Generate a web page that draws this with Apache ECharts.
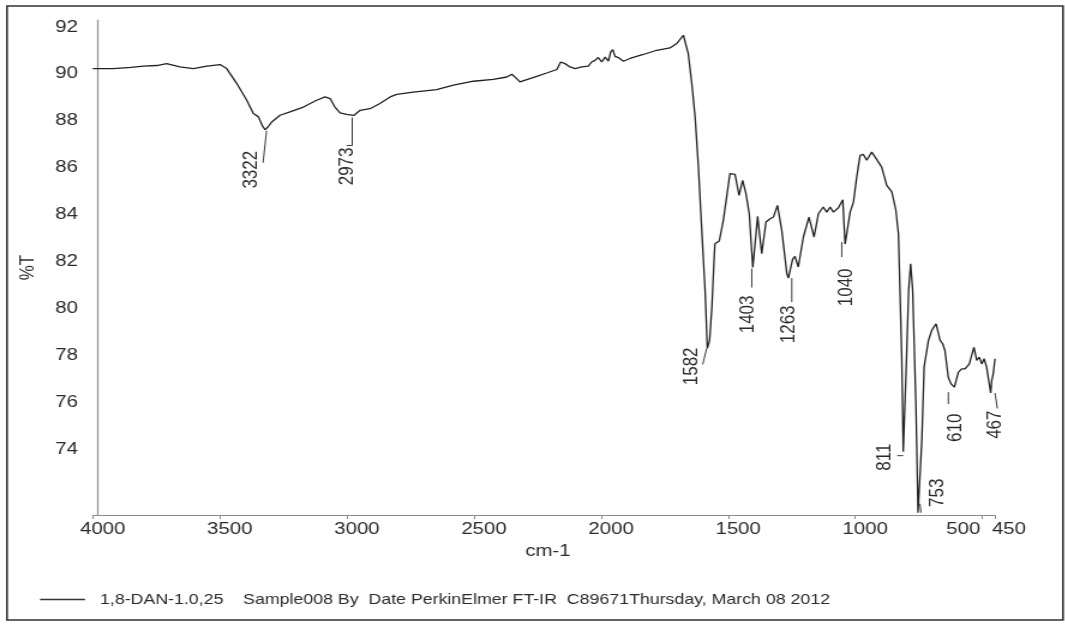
<!DOCTYPE html>
<html>
<head>
<meta charset="utf-8">
<title>FT-IR spectrum 1,8-DAN</title>
<script src="https://cdn.jsdelivr.net/npm/echarts@6/dist/echarts.min.js"></script>
<style>
  html, body { margin: 0; padding: 0; background: #fff; }
  /* The instrument printout uses a horizontally widened type face; the chart is
     drawn at 1/S of the page width and widened by S. */
  #chart { width: 887.5px; height: 624px; transform: scaleX(1.2); transform-origin: 0 0; }
</style>
</head>
<body>
<div id="chart"></div>
<script>
// ---- spectrum (cm-1, %T) ----
const wavenumbers = [
  4000, 3919, 3850, 3801, 3748, 3709, 3657, 3604, 3551, 3499, 3473, 3433, 3394, 3368, 3348, 3333,
  3322, 3310, 3296, 3263, 3224, 3171, 3119, 3086, 3066, 3047, 3027, 3001, 2973, 2948, 2909, 2870,
  2830, 2804, 2739, 2647, 2581, 2502, 2424, 2371, 2351, 2332, 2319, 2292, 2253, 2214, 2174, 2159,
  2142, 2122, 2102, 2076, 2050, 2037, 2024, 2011, 1997, 1984, 1971, 1962, 1954, 1945, 1932, 1912,
  1886, 1834, 1781, 1729, 1702, 1676, 1657, 1643, 1630, 1617, 1603, 1590, 1582, 1573, 1564, 1555,
  1552, 1535, 1519, 1506, 1493, 1473, 1457, 1443, 1430, 1417, 1403, 1384, 1368, 1351, 1335, 1322,
  1306, 1289, 1269, 1263, 1246, 1237, 1224, 1204, 1182, 1162, 1145, 1126, 1112, 1099, 1086, 1066,
  1049, 1040, 1020, 1007, 994, 981, 968, 955, 935, 915, 896, 876, 856, 840, 830, 824,
  817, 811, 798, 790, 782, 774, 761, 753, 738, 729, 712, 699, 682, 666, 656, 647,
  634, 623, 610, 594, 581, 568, 561, 551, 542, 533, 522, 512, 502, 493, 483, 467,
  463, 457, 450
];
const transmittance = [
  90.03, 90.03, 90.08, 90.13, 90.16, 90.24, 90.10, 90.03, 90.13, 90.20, 90.03, 89.39, 88.68, 88.11, 87.97, 87.60,
  87.42, 87.55, 87.75, 88.04, 88.18, 88.39, 88.68, 88.82, 88.75, 88.39, 88.14, 88.08, 88.03, 88.25, 88.32, 88.54,
  88.82, 88.93, 89.03, 89.13, 89.32, 89.49, 89.57, 89.67, 89.79, 89.60, 89.46, 89.56, 89.70, 89.84, 89.99, 90.31,
  90.24, 90.10, 90.03, 90.10, 90.13, 90.31, 90.38, 90.50, 90.31, 90.52, 90.35, 90.74, 90.84, 90.55, 90.50, 90.34,
  90.46, 90.63, 90.81, 90.91, 91.10, 91.45, 90.67, 89.39, 87.97, 85.83, 82.99, 80.43, 78.10, 78.44, 79.86, 81.99,
  82.56, 82.68, 83.56, 84.55, 85.55, 85.52, 84.62, 85.26, 84.70, 83.84, 81.55, 83.73, 82.14, 83.49, 83.63, 83.70,
  84.20, 83.13, 81.28, 81.10, 81.92, 82.02, 81.57, 82.85, 83.70, 82.85, 83.84, 84.13, 83.91, 84.13, 83.91, 84.10,
  84.44, 82.55, 83.91, 84.34, 85.41, 86.33, 86.37, 86.12, 86.47, 86.15, 85.83, 85.05, 84.77, 83.98, 82.99, 80.57,
  77.73, 73.70, 77.73, 80.57, 81.71, 80.57, 75.59, 71.10, 74.17, 77.30, 78.44, 78.87, 79.15, 78.44, 78.30, 78.01,
  76.87, 76.59, 76.45, 77.09, 77.23, 77.23, 77.16, 77.44, 77.80, 78.15, 77.59, 77.73, 77.44, 77.66, 77.30, 76.20,
  76.73, 77.02, 77.66
];

// ---- labelled absorption bands ----
const peakWavenumbers = [3322, 2973, 1582, 1403, 1263, 1040, 811, 753, 610, 467];
const peakTransmittance = [87.42, 88.03, 78.10, 81.55, 81.10, 82.55, 73.70, 71.10, 76.45, 76.20];

// ---- axis ticks ----
const xTickValues = [4000, 3500, 3000, 2500, 2000, 1500, 1000, 500, 450];
const yTickValues = [74, 76, 78, 80, 82, 84, 86, 88, 90, 92];

const seriesName = '1,8-DAN-1.0,25    Sample008 By  Date PerkinElmer FT-IR  C89671Thursday, March 08 2012';

// ---- layout (page pixels, before horizontal widening is undone) ----
const S = 1.2;
const FONT = '"Liberation Sans", Arial, sans-serif';
const INK = '#2b2b2b';
const AXIS = '#8c8c8c';

// leader line [x1, y1, x2, y2], optional foot [x1, y1, x2, y2], text [centre x, top y];
// all relative to the band minimum on the curve
const peakLayout = [
  { lead: [1.5, 1, -2, 33],    text: [-14, 21] },
  { lead: [-1.5, 2, -1.5, 30], foot: [-1.5, 30, -7, 30], text: [-7, 32] },
  { lead: [-0.6, 0, -4.6, 16], text: [-15.6, -1] },
  { lead: [-1, 1, -1, 20],     text: [-4.4, 28] },
  { lead: [3.4, 0, 3.4, 24],   text: [0, 27.4] },
  { lead: [-3.3, -2, -3.3, 13], text: [1.7, 24.4] },
  { lead: [-6, 4, 0, 4],       text: [-18, -8] },
  { lead: [2, -9, 3, 0],       text: [20, -34] },
  { lead: [-6, 5, -6, 17],     text: [0.7, 26.4] },
  { lead: [4.3, 0, 6.6, 15.5], text: [4.3, 17.5] }
];

const spectrum = wavenumbers.map((w, i) => [w, transmittance[i]]);
const peaks = peakWavenumbers.map((w, i) => [w, peakTransmittance[i]]);

const chart = echarts.init(document.getElementById('chart'), null, { renderer: 'canvas' });

const labelFont = { fontSize: 17, fontFamily: FONT, color: INK };
const xRich = {
  r: Object.assign({ padding: [0, 0, 0, 2 * 10 / S] }, labelFont),
  l: Object.assign({ padding: [0, 2 * 19 / S, 0, 0] }, labelFont),
  m: Object.assign({ padding: [0, 0, 0, 2 * 14 / S] }, labelFont)
};
const yRich = {
  y: Object.assign({ padding: [9, 0, 0, 0] }, labelFont)
};

chart.setOption({
  animation: false,
  backgroundColor: '#fff',
  textStyle: { fontFamily: FONT },
  grid: { left: 92.7 / S, width: (995 - 92.7) / S, top: 20, height: 495, containLabel: false },
  xAxis: {
    type: 'value',
    inverse: true,
    min: 450,
    max: 4000,
    name: 'cm-1',
    nameLocation: 'middle',
    nameGap: 19,
    nameTextStyle: { fontSize: 17, fontFamily: FONT, color: INK, padding: [0, 0, 0, 2 * 4 / S] },
    axisLine: { show: true, lineStyle: { color: AXIS, width: 1.2 } },
    axisTick: { show: true, inside: false, length: 4, customValues: xTickValues, lineStyle: { color: AXIS } },
    axisLabel: {
      customValues: xTickValues,
      margin: 6,
      formatter: v => (v === 500 ? '{l|' + v + '}' : v === 450 ? '{m|' + v + '}' : '{r|' + v + '}'),
      rich: xRich
    },
    splitLine: { show: false }
  },
  yAxis: {
    type: 'value',
    min: 71,
    max: 92.1,
    offset: -5 / S,
    name: '%T',
    nameLocation: 'middle',
    nameRotate: 90,
    nameGap: 50,
    nameTextStyle: { fontSize: 17, fontFamily: FONT, color: INK },
    axisLine: { show: true, lineStyle: { color: AXIS, width: 1.2 } },
    axisTick: { show: false },
    axisLabel: {
      customValues: yTickValues,
      margin: 16.4,
      formatter: v => '{y|' + v + '}',
      rich: yRich
    },
    splitLine: { show: false }
  },
  legend: {
    left: 40 / S,
    top: 592,
    padding: 0,
    itemWidth: 45 / S,
    itemHeight: 1.6,
    icon: 'rect',
    selectedMode: false,
    textStyle: { fontSize: 14.8, fontFamily: FONT, color: INK, padding: [0, 0, 0, 7.5] },
    data: [seriesName]
  },
  graphic: [{
    type: 'rect',
    silent: true,
    shape: { x: 7 / S, y: 6, width: (1063 - 7) / S, height: 614 },
    style: { fill: 'none', stroke: '#333', lineWidth: 1.6 }
  }],
  series: [
    {
      name: seriesName,
      type: 'line',
      data: spectrum,
      showSymbol: false,
      symbol: 'none',
      smooth: false,
      lineStyle: { color: '#222', width: 1.3 },
      itemStyle: { color: '#333' },
      silent: true
    },
    {
      name: 'bands',
      type: 'custom',
      coordinateSystem: 'cartesian2d',
      data: peaks,
      silent: true,
      z: 5,
      renderItem: function (params, api) {
        const L = peakLayout[params.dataIndex];
        const p = api.coord([api.value(0), api.value(1)]);
        const seg = a => ({
          type: 'line',
          shape: { x1: p[0] + a[0] / S, y1: p[1] + a[1], x2: p[0] + a[2] / S, y2: p[1] + a[3] },
          style: { stroke: '#3a3a3a', lineWidth: 1 }
        });
        const children = [seg(L.lead)];
        if (L.foot) children.push(seg(L.foot));
        children.push({
          type: 'text',
          x: p[0] + L.text[0] / S,
          y: p[1] + L.text[1],
          rotation: Math.PI / 2,
          style: {
            text: String(api.value(0)),
            fontSize: 17,
            fontFamily: FONT,
            fill: INK,
            align: 'right',
            verticalAlign: 'middle'
          }
        });
        return { type: 'group', children: children };
      }
    }
  ]
});
</script>
</body>
</html>
